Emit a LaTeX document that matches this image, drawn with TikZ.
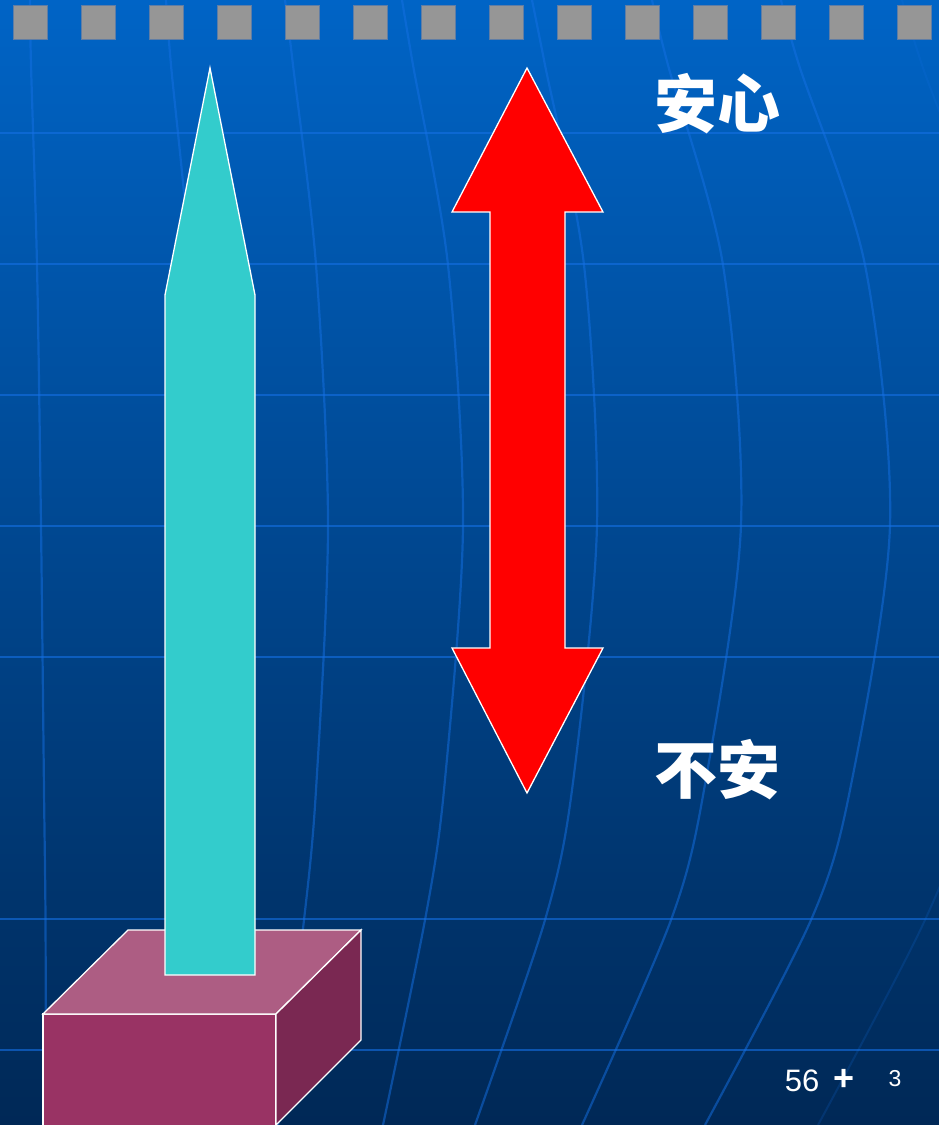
\documentclass[tikz,border=0pt]{standalone}
\usepackage{fontspec}
\setmainfont{Liberation Sans}
\newfontfamily\cjk{Noto Sans CJK SC}
\definecolor{bgtop}{RGB}{0,100,198}
\definecolor{bgbot}{RGB}{0,40,86}
\definecolor{gridblue}{RGB}{20,112,228}
\definecolor{squaregray}{RGB}{150,150,150}
\definecolor{squareedge}{RGB}{95,125,165}
\definecolor{pillar}{RGB}{51,204,204}
\definecolor{boxfront}{RGB}{153,51,100}
\definecolor{boxtop}{RGB}{173,93,131}
\definecolor{boxside}{RGB}{122,40,82}
\begin{document}
\begin{tikzpicture}[x=1pt,y=-1pt,
  gridline/.style={draw=gridblue, opacity=0.6, line width=2.6pt},
  meridian/.style={draw=gridblue, opacity=0.5, line width=2.2pt},
  faintmeridian/.style={draw=gridblue, opacity=0.18, line width=2pt},
  sprocket/.style={fill=squaregray, draw=squareedge, line width=0.8pt},
  shapeedge/.style={draw=white, line width=1.3pt, line join=miter},
  biglabel/.style={text=white, font=\cjk\bfseries\fontsize{63}{63}\selectfont, inner sep=0pt},
  footer/.style={text=white, inner sep=0pt}]
\useasboundingbox (0,0) rectangle (939,1125);
% background
\shade[top color=bgtop, bottom color=bgbot] (0,0) rectangle (939,1125);
% horizontal grid lines
\foreach \yy in {133,264,395,526,657,919,1050}
  \draw[gridline] (0,\yy) -- (939,\yy);
% curved meridians
\draw[meridian] plot[smooth] coordinates {(30,0) (31,65) (37,265) (41,525) (44,790) (45.5,920) (46,1125)};
\draw[meridian] plot[smooth] coordinates {(166,0) (171,65) (190,265) (200,525) (192,790) (180,920) (160,1125)};
\draw[meridian] plot[smooth] coordinates {(285,0) (293,65) (316,265) (328,525) (316,790) (304,920) (278,1125)};
\draw[meridian] plot[smooth] coordinates {(402,0) (413,65) (448,265) (463,525) (444,790) (425,920) (383,1125)};
\draw[meridian] plot[smooth] coordinates {(532,0) (545,65) (584,265) (597,525) (572,790) (545,920) (475,1125)};
\draw[meridian] plot[smooth] coordinates {(652,0) (668,65) (723,265) (741,525) (704,790) (671,920) (582,1125)};
\draw[meridian] plot[smooth] coordinates {(781,0) (799,65) (865,265) (890,525) (850,790) (811,920) (705,1125)};
\draw[faintmeridian] plot[smooth] coordinates {(902,0) (922,65) (990,265) (1010,525) (970,790) (925,920) (818,1125)};
% sprocket squares
\foreach \k in {0,...,13}
  \draw[sprocket] (13+68*\k,5.5) rectangle ++(34,34);
% pedestal box
\draw[shapeedge, fill=boxfront] (43,1014) -- (276,1014) -- (276,1130) -- (43,1130) -- cycle;
\draw[shapeedge, fill=boxtop] (43,1014) -- (128,930) -- (361,930) -- (276,1014) -- cycle;
\draw[shapeedge, fill=boxside] (276,1014) -- (361,930) -- (361,1040) -- (276,1125) -- cycle;
% cyan pillar arrow
\draw[shapeedge, fill=pillar] (210,68) -- (255,295) -- (255,975) -- (165,975) -- (165,295) -- cycle;
% red double arrow
\draw[shapeedge, fill=red] (527,68) -- (603,212) -- (565,212) -- (565,648) -- (603,648)
  -- (527,793) -- (452,648) -- (490,648) -- (490,212) -- (452,212) -- cycle;
% labels
\node[biglabel] (anxin) at (717,104) {安心};
\node[biglabel] (buan) at (717,770) {不安};
\node[footer, font=\fontsize{31}{31}\selectfont] (pagea) at (802,1081) {56};
\node[footer, font=\bfseries\fontsize{36}{36}\selectfont] (plus) at (844,1080) {+};
\node[footer, font=\fontsize{23}{23}\selectfont] (pageb) at (895,1079) {3};
\end{tikzpicture}
\end{document}
